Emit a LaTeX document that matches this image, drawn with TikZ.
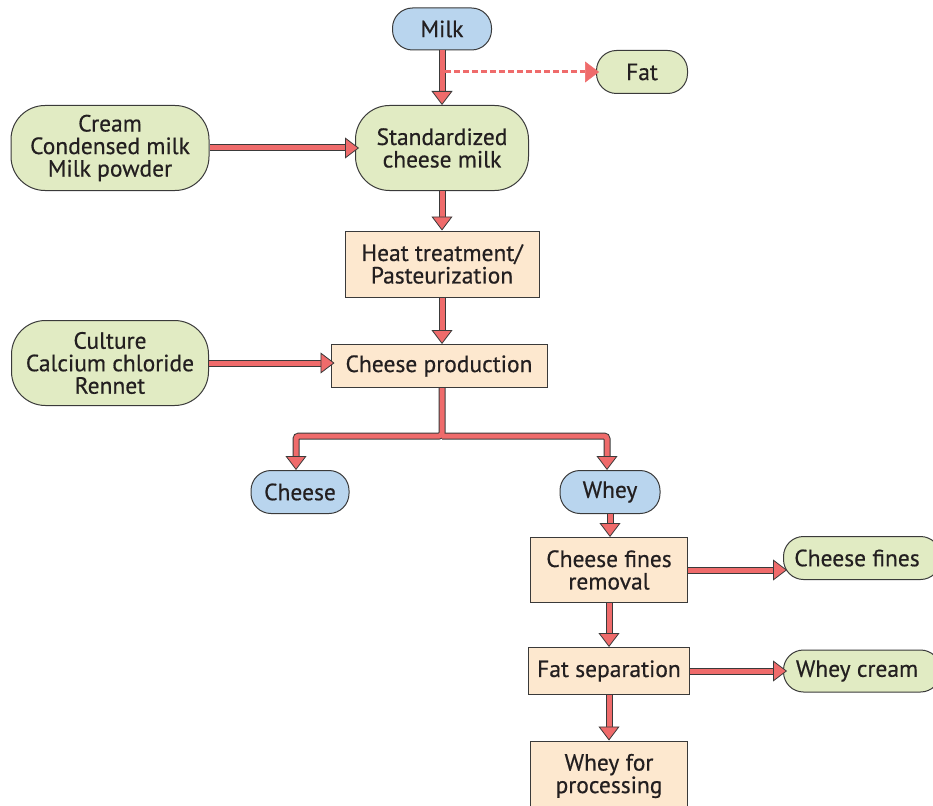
\documentclass[tikz,border=0pt]{standalone}
\usepackage{fontspec}
\setmainfont{PT Sans}
\newfontfamily\labelfont[FakeBold=0.5]{PT Sans}
\usetikzlibrary{arrows.meta,calc}
\definecolor{bluefill}{HTML}{B9D5EE}
\definecolor{greenfill}{HTML}{E1EBC3}
\definecolor{peach}{HTML}{FDE8CF}
\definecolor{flow}{HTML}{EF6B6B}
\definecolor{edge}{HTML}{3A3A3A}
\definecolor{txt}{HTML}{231F20}
\tikzset{
  base/.style={draw=edge, line width=1pt, inner sep=0pt, align=center,
    font=\labelfont\fontsize{23.5}{22.5}\selectfont, text=txt},
  pill/.style={base, rounded corners=20pt},
  blob/.style={base, rounded corners=34pt},
  proc/.style={base, fill=peach},
  flowout/.style={line width=7pt, draw=edge, shorten >=12pt},
  flowin/.style={line width=5pt, draw=flow,
    -{Triangle[length=14pt,width=21pt,color=edge,fill=flow,line width=0.8pt]}},
  flowdash/.style={line width=3pt, draw=flow, dash pattern=on 6pt off 3pt,
    -{Triangle[length=14pt,width=21pt,color=flow,fill=flow,line width=0.5pt]}},
}
\begin{document}
\begin{tikzpicture}[x=1pt,y=-1pt]
\useasboundingbox (0,0) rectangle (933,805);

% nodes
\node[pill, fill=bluefill, minimum width=99pt, minimum height=42pt] (milk) at (442,29) {Milk};
\node[pill, fill=greenfill, minimum width=91pt, minimum height=43pt] (fat) at (642,72) {Fat};
\node[blob, fill=greenfill, minimum width=173pt, minimum height=85pt] (std) at (442,148) {Standardized\\cheese milk};
\node[blob, fill=greenfill, minimum width=198pt, minimum height=85pt] (add1) at (110,148) {Cream\\Condensed milk\\Milk powder};
\node[proc, minimum width=194pt, minimum height=66pt] (heat) at (442,264) {Heat treatment/\\Pasteurization};
\node[blob, fill=greenfill, minimum width=197pt, minimum height=85pt] (add2) at (110,363) {Culture\\Calcium chloride\\Rennet};
\node[proc, minimum width=216pt, minimum height=43pt] (prod) at (439,366) {Cheese production};
\node[pill, fill=bluefill, minimum width=98pt, minimum height=43pt] (cheese) at (300,492) {Cheese};
\node[pill, fill=bluefill, minimum width=100pt, minimum height=43pt] (whey) at (610,492) {Whey};
\node[proc, minimum width=157pt, minimum height=65pt] (fines) at (609,570) {Cheese fines\\removal};
\node[pill, fill=greenfill, minimum width=157pt, minimum height=43pt, anchor=west] (finesout) at (783,558) {\hspace*{-10pt}Cheese fines};
\node[proc, minimum width=161pt, minimum height=47pt] (sep) at (609,671) {Fat separation};
\node[pill, fill=greenfill, minimum width=157pt, minimum height=42pt, anchor=west] (cream) at (783,671) {\hspace*{-10pt}Whey cream};
\node[proc, minimum width=157pt, minimum height=70pt] (proc) at (609,776) {Whey for\\processing};

% connectors: dark outline first, red core on top
\foreach \a/\b in {milk/std, std/heat, heat/prod, whey/fines, fines/sep, sep/proc}{
  \draw[flowout] (\a.south) -- (\b.north -| \a.south);
  \draw[flowin]  (\a.south) -- (\b.north -| \a.south);
}
\foreach \a/\b in {add1/std, add2/prod, fines/finesout, sep/cream}{
  \draw[flowout] (\a.east) -- ([xshift=4pt]\b.west |- \a.east);
  \draw[flowin]  (\a.east) -- ([xshift=4pt]\b.west |- \a.east);
}

% split into cheese and whey
\coordinate (split) at (442,436);
\draw[flowout, rounded corners=3pt] (prod.south -| split) -- (split) -| ([xshift=-4pt]cheese.north);
\draw[flowout, rounded corners=3pt] (split) -| ([xshift=-3pt]whey.north);
\draw[flowin, rounded corners=3pt] (prod.south -| split) -- (split) -| ([xshift=-4pt]cheese.north);
\draw[flowin, rounded corners=3pt] (split) -| ([xshift=-3pt]whey.north);

% fat skimmed off the milk line
\draw[flowdash] ([xshift=3pt]milk.south |- fat.west) -- ([xshift=3pt]fat.west);
\end{tikzpicture}
\end{document}
